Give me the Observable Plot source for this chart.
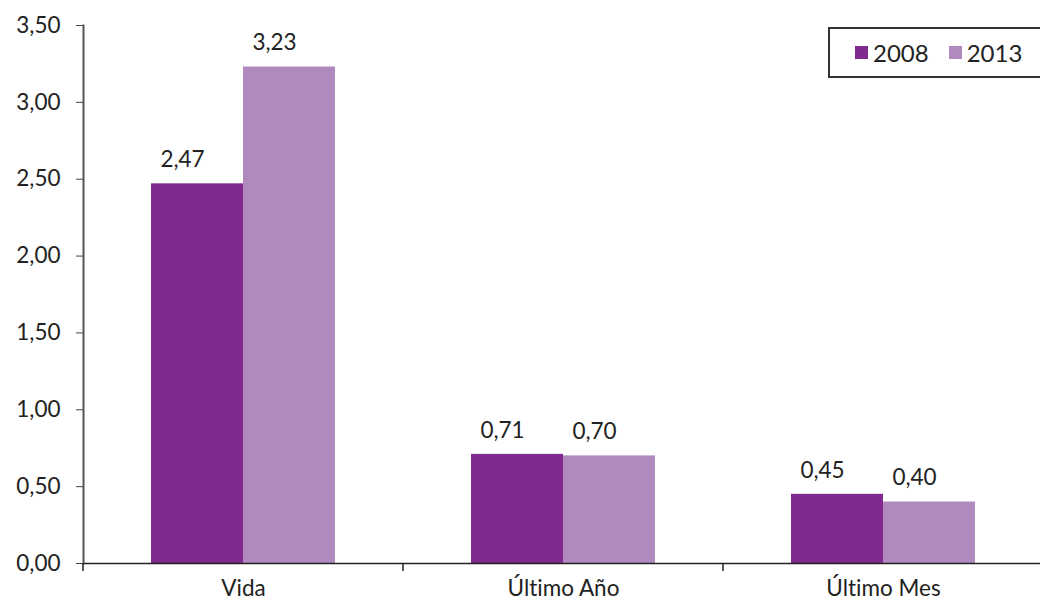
<!DOCTYPE html>
<html>
<head>
<meta charset="utf-8">
<script src="https://cdn.jsdelivr.net/npm/d3@7"></script>
<script src="https://cdn.jsdelivr.net/npm/@observablehq/plot@0.6"></script>
<style>
  html, body { margin: 0; padding: 0; background: #fff; }
  #wrap { position: relative; width: 1040px; height: 605px; overflow: hidden; font-family: Lato, "Open Sans", sans-serif; font-variant-ligatures: none; }
  #wrap svg text { font-variant-ligatures: none; font-feature-settings: "liga" 0, "clig" 0; }
  #legend { position: absolute; left: 828px; top: 27px; width: 220px; height: 51px; border: 2px solid #333; box-sizing: border-box; display: flex; align-items: center; font-size: 24px; color: #222; }
  .item { display: flex; align-items: center; margin-left: 25px; }
  .item + .item { margin-left: 20px; }
  .sw { width: 13px; height: 13px; margin-right: 5px; }
</style>
</head>
<body>
<div id="wrap"><div id="legend"></div></div>
<script>
const categories = ["Vida", "Último Año", "Último Mes"];
const years = ["2008", "2013"];
const values2008 = [2.47, 0.71, 0.45];
const values2013 = [3.23, 0.70, 0.40];
const yTicks = [0, 0.5, 1, 1.5, 2, 2.5, 3, 3.5];
const colors = ["#80298f", "#b08abe"];

const data = categories.flatMap((c, i) => [
  {cat: c, year: years[0], v: values2008[i]},
  {cat: c, year: years[1], v: values2013[i]}
]);
const fmt = v => d3.format(".2f")(v).replace(".", ",");

const chart = Plot.plot({
  width: 1040,
  height: 605,
  marginTop: 25,
  marginBottom: 42,
  marginLeft: 83,
  marginRight: -3,
  style: {fontFamily: "Lato, 'Open Sans', sans-serif", color: "#222", background: "transparent", overflow: "visible", fontVariantLigatures: "none"},
  fx: {domain: categories, padding: 0, label: null},
  x: {domain: years, paddingInner: 0, paddingOuter: 0.739, axis: null},
  y: {domain: [0, 3.5], label: null},
  color: {domain: years, range: colors},
  marks: [
    Plot.barY(data, {fx: "cat", x: "year", y: "v", fill: "year"}),
    Plot.text(data, {fx: "cat", x: "year", y: "v", text: d => fmt(d.v), dy: -24, dx: -15, fontSize: 22.5, fill: "#222"}),
    Plot.ruleY([0], {stroke: "#222", strokeWidth: 1.5}),
    Plot.frame({anchor: "left", facetAnchor: "left", stroke: "#555", strokeWidth: 2}),
    Plot.axisY({ticks: yTicks, tickFormat: fmt, tickSize: 7, tickPadding: 16, fontSize: 22.5, label: null, stroke: "#444"}),
    Plot.axisFx({anchor: "bottom", tickSize: 0, tickPadding: 17, fontSize: 22.5, label: null})
  ]
});
document.getElementById("wrap").prepend(chart);

// boundary ticks on the category axis, positioned with the plot's own scales
const fx = chart.scale("fx");
const y = chart.scale("y");
const y0 = y.apply(0);
const bounds = categories.map(c => fx.apply(c)).concat([fx.apply(categories[categories.length - 1]) + fx.bandwidth]);
const svg = d3.select(chart.tagName.toLowerCase() === "svg" ? chart : chart.querySelector("svg"));
svg.append("g").selectAll("line").data(bounds).join("line")
  .attr("x1", d => d).attr("x2", d => d)
  .attr("y1", y0).attr("y2", y0 + 8)
  .attr("stroke", "#222").attr("stroke-width", 1.5);

// legend
const legend = d3.select("#legend");
years.forEach((yr, i) => {
  const it = legend.append("div").attr("class", "item");
  it.append("div").attr("class", "sw").style("background", colors[i]);
  it.append("span").text(yr);
});
</script>
</body>
</html>
